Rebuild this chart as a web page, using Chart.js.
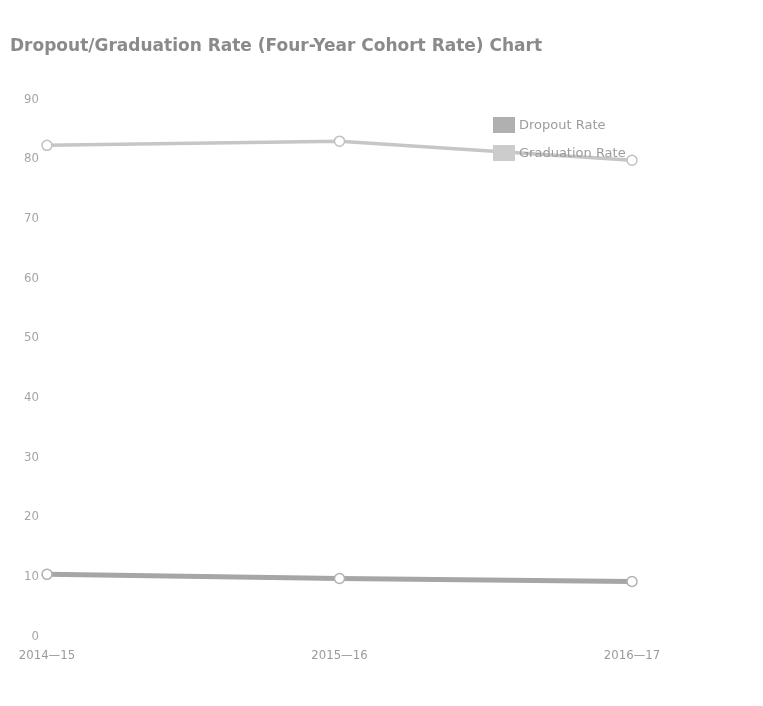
<!DOCTYPE html>
<html>
<head>
<meta charset="utf-8">
<script src="https://cdn.jsdelivr.net/npm/chart.js@4.4.0/dist/chart.umd.min.js"></script>
<style>
html,body{margin:0;padding:0;background:#fff;}
#wrap{position:relative;width:763px;height:706px;}
</style>
</head>
<body>
<div id="wrap"><canvas id="c" width="763" height="706"></canvas></div>
<script>
const categories = ["2014\u201415", "2015\u201416", "2016\u201417"];
const dropoutRate = [10.4, 9.7, 9.2];
const graduationRate = [82.3, 83.0, 79.8];
const yTicks = [0, 10, 20, 30, 40, 50, 60, 70, 80, 90];
const seriesNames = ["Dropout Rate", "Graduation Rate"];
const chartTitle = "Dropout/Graduation Rate (Four-Year Cohort Rate) Chart";

const insideLegend = {
  id: 'insideLegend',
  afterDraw(chart) {
    const ctx = chart.ctx;
    const x0 = 493, ys = [125, 153];
    ctx.save();
    chart.data.datasets.forEach((ds, i) => {
      const y = ys[i];
      ctx.fillStyle = ds.legendColor;
      ctx.fillRect(x0, y - 8, 22, 16);
      ctx.fillStyle = '#9c9c9c';
      ctx.font = '13px "DejaVu Sans", sans-serif';
      ctx.textBaseline = 'middle';
      ctx.textAlign = 'left';
      ctx.fillText(ds.label, x0 + 26, y + 1);
    });
    ctx.restore();
  }
};

new Chart(document.getElementById('c'), {
  type: 'line',
  data: {
    labels: categories,
    datasets: [
      {
        label: seriesNames[0],
        data: dropoutRate,
        borderColor: '#a6a6a6',
        borderWidth: 5,
        backgroundColor: '#ffffff',
        pointBackgroundColor: '#ffffff',
        pointBorderColor: '#b0b0b0',
        pointBorderWidth: 1.5,
        pointRadius: 5,
        legendColor: '#b0b0b0',
        tension: 0
      },
      {
        label: seriesNames[1],
        data: graduationRate,
        borderColor: '#c6c6c6',
        borderWidth: 3.5,
        backgroundColor: '#ffffff',
        pointBackgroundColor: '#ffffff',
        pointBorderColor: '#c0c0c0',
        pointBorderWidth: 1.5,
        pointRadius: 5,
        legendColor: '#cccccc',
        tension: 0
      }
    ]
  },
  options: {
    responsive: false,
    animation: false,
    layout: { padding: { left: 10, right: 131, top: 8, bottom: 32 } },
    plugins: {
      legend: { display: false },
      tooltip: { enabled: false },
      title: {
        display: true,
        text: chartTitle,
        align: 'start',
        color: '#8a8a8a',
        font: { family: '"DejaVu Sans", Verdana, sans-serif', size: 17, weight: 'bold' },
        padding: { top: 28, bottom: 43 }
      }
    },
    scales: {
      x: {
        offset: false,
        grid: { display: false, drawTicks: false },
        border: { display: false },
        ticks: {
          color: '#9a9a9a',
          font: { family: '"DejaVu Sans Condensed", "DejaVu Sans", sans-serif', size: 13 },
          padding: 11,
          maxRotation: 0
        }
      },
      y: {
        min: 0,
        max: 90,
        afterBuildTicks(axis) { axis.ticks = yTicks.map(v => ({ value: v })); },
        afterFit(axis) { axis.width = 37; },
        grid: { display: false, drawTicks: false },
        border: { display: false },
        ticks: {
          color: '#a5a5a5',
          font: { family: '"DejaVu Sans Condensed", "DejaVu Sans", sans-serif', size: 13 },
          padding: 8
        }
      }
    }
  },
  plugins: [insideLegend]
});
</script>
</body>
</html>
